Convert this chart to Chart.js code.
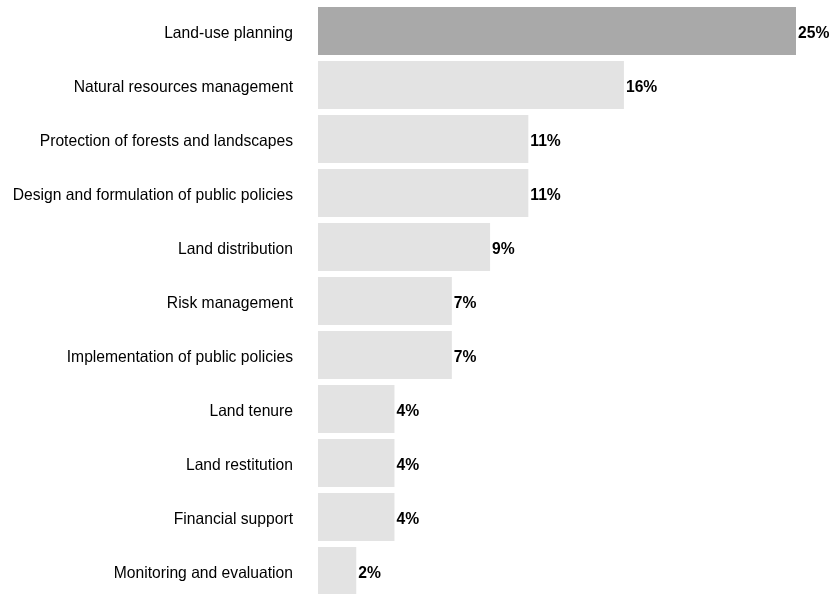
<!DOCTYPE html>
<html>
<head>
<meta charset="utf-8">
<script src="https://cdn.jsdelivr.net/npm/chart.js@4.4.1/dist/chart.umd.min.js"></script>
<style>
  html, body { margin: 0; padding: 0; overflow: hidden; background: #fff; }
  #wrap { position: relative; width: 832px; height: 598px; }
</style>
</head>
<body>
<div id="wrap"><canvas id="grafica"></canvas></div>
<script>
// Datos de la gráfica
const categorias = [
    'Land-use planning',
    'Natural resources management',
    'Protection of forests and landscapes',
    'Design and formulation of public policies',
    'Land distribution',
    'Risk management',
    'Implementation of public policies',
    'Land tenure',
    'Land restitution',
    'Financial support',
    'Monitoring and evaluation'
];
const valores = [25, 16, 11, 11, 9, 7, 7, 4, 4, 4, 2];
const colores = ['#a9a9a9', '#e3e3e3', '#e3e3e3', '#e3e3e3', '#e3e3e3', '#e3e3e3',
                 '#e3e3e3', '#e3e3e3', '#e3e3e3', '#e3e3e3', '#e3e3e3'];

const fuente = '"Liberation Sans", Arial, sans-serif';
const tamFuente = 15.67;

// Etiquetas de porcentaje al final de cada barra
const etiquetasValor = {
    id: 'etiquetasValor',
    afterDatasetsDraw(chart) {
        const ctx = chart.ctx;
        const meta = chart.getDatasetMeta(0);
        ctx.save();
        ctx.font = 'bold ' + tamFuente + 'px ' + fuente;
        ctx.fillStyle = '#000';
        ctx.textAlign = 'left';
        ctx.textBaseline = 'middle';
        meta.data.forEach(function(bar, i) {
            ctx.fillText(valores[i] + '%', bar.x + 2, bar.y + 3);
        });
        ctx.restore();
    }
};

new Chart(document.getElementById('grafica').getContext('2d'), {
    type: 'bar',
    data: {
        labels: categorias,
        datasets: [{
            data: valores,
            backgroundColor: colores,
            borderWidth: 0,
            categoryPercentage: 1,
            barPercentage: 0.889
        }]
    },
    options: {
        indexAxis: 'y',
        responsive: true,
        maintainAspectRatio: false,
        animation: false,
        layout: { padding: { top: 4, right: 36, left: 0, bottom: 0 } },
        plugins: {
            legend: { display: false },
            tooltip: { enabled: false }
        },
        scales: {
            x: {
                min: 0,
                max: 25,
                display: false
            },
            y: {
                grid: { display: false, drawTicks: false },
                border: { display: false },
                ticks: {
                    color: '#000',
                    padding: 25,
                    labelOffset: 2.5,
                    font: { family: fuente, size: tamFuente }
                },
                afterFit: function(scale) {
                    scale.width = 318;
                    scale.paddingTop = 0;
                    scale.paddingBottom = 0;
                }
            }
        }
    },
    plugins: [etiquetasValor]
});
</script>
</body>
</html>
